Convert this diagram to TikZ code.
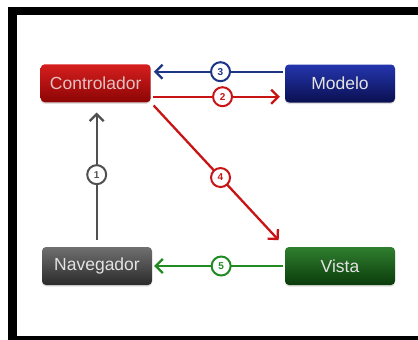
\documentclass[tikz,border=0pt]{standalone}
\usepackage{fontspec}
\setmainfont{Liberation Sans}
\usetikzlibrary{arrows.meta,shadows,calc}

\definecolor{redTop}{HTML}{D61E1E}
\definecolor{redBot}{HTML}{8C0505}
\definecolor{blueTop}{HTML}{2435AE}
\definecolor{blueBot}{HTML}{0A1050}
\definecolor{grayTop}{HTML}{707070}
\definecolor{grayBot}{HTML}{2A2A2A}
\definecolor{greenTop}{HTML}{2F7F2F}
\definecolor{greenBot}{HTML}{0B3B0B}
\definecolor{redLine}{HTML}{C81414}
\definecolor{blueLine}{HTML}{1C3585}
\definecolor{grayLine}{HTML}{505050}
\definecolor{greenLine}{HTML}{218A21}

\begin{document}
\begin{tikzpicture}[x=1pt,y=-1pt,
  box/.style={rounded corners=4pt, minimum width=110pt, minimum height=38pt,
    inner sep=0pt, font=\fontsize{17.5}{20}\selectfont,
    drop shadow={shadow xshift=0pt, shadow yshift=-1.5pt, opacity=0.25}},
  flow/.style={line width=2.3pt, draw=#1,
    -{Straight Barb[length=7pt,width=14pt]}},
  numcirc/.style={circle, draw=#1, fill=white, line width=2pt,
    minimum size=19pt, inner sep=0pt, text=#1,
    font=\fontsize{10}{10}\selectfont\bfseries}]

  % page area and black frame
  \useasboundingbox (0,0) rectangle (418,340);
  \fill[white] (0,0) rectangle (418,340);
  \fill[black] (8,7) rectangle (418,340);
  \fill[white] (17,15) rectangle (418,336);

  % the four components
  \node[box, top color=redTop, bottom color=redBot, text=red!18!white!80!gray]
    (ctrl) at (95.7,83.3) {Controlador};
  \node[box, top color=blueTop, bottom color=blueBot, text=white!78!gray]
    (model) at (340,83.5) {Modelo};
  \node[box, top color=grayTop, bottom color=grayBot, text=white!78!gray]
    (nav) at (97,266) {Navegador};
  \node[box, top color=greenTop, bottom color=greenBot, text=white!78!gray]
    (view) at (340,266) {Vista};

  % request flow
  \draw[flow=grayLine, shorten <=7pt, shorten >=10pt]
    ($(nav.north)+(-0.3,0)$) -- ($(ctrl.south)+(1,0)$)
    node[numcirc=grayLine, pos=0.5] {1};
  \draw[flow=redLine, shorten <=2pt, shorten >=5pt]
    ($(ctrl.east)+(0,13.4)$) -- ($(model.west)+(0,13.2)$)
    node[numcirc=redLine, pos=0.535] {2};
  \draw[flow=blueLine, shorten <=2pt, shorten >=3pt]
    ($(model.west)+(0,-11.8)$) -- ($(ctrl.east)+(0,-11.6)$)
    node[numcirc=blueLine, pos=0.48] {3};
  \draw[flow=redLine, shorten <=4pt, shorten >=9pt]
    (ctrl.south east) -- (view.north west)
    node[numcirc=redLine, pos=0.52] {4};
  \draw[flow=greenLine, shorten <=2pt, shorten >=2pt]
    (view.west) -- (nav.east)
    node[numcirc=greenLine, pos=0.48] {5};
\end{tikzpicture}
\end{document}
